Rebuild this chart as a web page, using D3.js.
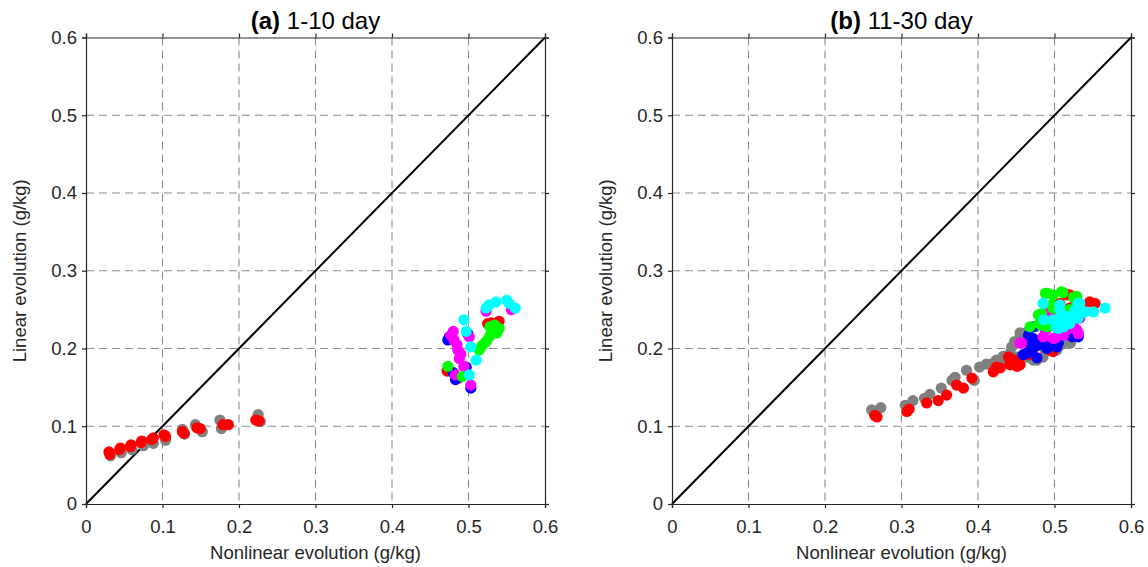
<!DOCTYPE html>
<html>
<head>
<meta charset="utf-8">
<script src="https://cdn.jsdelivr.net/npm/d3@7"></script>
<style>
  body { margin: 0; background: #fff; }
  svg { font-family: "Liberation Sans", Arial, Helvetica, sans-serif; }
</style>
</head>
<body>
<div id="chart-area"></div>
<script>
// tick values shared by both panels
var ticks = [0, 0.1, 0.2, 0.3, 0.4, 0.5, 0.6];
var tickLabels = ["0", "0.1", "0.2", "0.3", "0.4", "0.5", "0.6"];
var seriesNames = ["grey", "red", "blue", "magenta", "green", "cyan"];
var seriesColors = ["#808080", "#ff0000", "#0000ff", "#ff00ff", "#00ff00", "#00ffff"];

// (a) 1-10 day, [nonlinear, linear]
var aGrey = [[0.032,0.062],[0.046,0.066],[0.060,0.070],[0.075,0.075],[0.088,0.078],[0.104,0.082],
  [0.129,0.090],[0.126,0.096],[0.143,0.102],[0.152,0.093],[0.175,0.108],[0.177,0.097],[0.225,0.115],[0.228,0.106]];
var aRed = [[0.030,0.067],[0.031,0.064],[0.044,0.070],[0.045,0.072],[0.058,0.074],[0.059,0.076],
  [0.072,0.079],[0.073,0.081],[0.086,0.083],[0.088,0.085],[0.102,0.089],[0.104,0.087],[0.126,0.093],
  [0.128,0.091],[0.145,0.098],[0.149,0.097],[0.179,0.102],[0.186,0.102],[0.222,0.108],[0.226,0.107],
  [0.525,0.232],[0.530,0.233],[0.540,0.235],[0.472,0.171],[0.487,0.162]];
var aBlue = [[0.473,0.211],[0.475,0.215],[0.499,0.219],[0.497,0.176],[0.503,0.149],[0.483,0.160],[0.480,0.169]];
var aMagenta = [[0.523,0.248],[0.556,0.250],[0.477,0.217],[0.481,0.211],[0.480,0.222],[0.486,0.198],
  [0.488,0.187],[0.494,0.177],[0.501,0.215],[0.483,0.166],[0.503,0.153],[0.485,0.205],[0.490,0.193]];
var aGreen = [[0.473,0.177],[0.514,0.198],[0.518,0.204],[0.523,0.209],[0.530,0.220],[0.534,0.230],
  [0.540,0.226],[0.537,0.220],[0.527,0.215],[0.492,0.164],[0.528,0.228]];
var aCyan = [[0.527,0.256],[0.536,0.260],[0.523,0.252],[0.553,0.258],[0.561,0.252],[0.550,0.262],
  [0.494,0.237],[0.510,0.185],[0.501,0.166],[0.503,0.202],[0.497,0.222]];

// (b) 11-30 day
var bGrey = [[0.261,0.121],[0.273,0.124],[0.305,0.127],[0.315,0.133],[0.330,0.136],[0.337,0.141],
  [0.352,0.149],[0.366,0.159],[0.370,0.163],[0.385,0.172],[0.395,0.159],[0.402,0.176],[0.411,0.180],
  [0.424,0.185],[0.451,0.189],[0.464,0.189],[0.477,0.185],[0.488,0.196],[0.455,0.215],[0.464,0.221],
  [0.507,0.204],[0.516,0.211],[0.525,0.221],[0.444,0.202],[0.475,0.228],[0.521,0.207],[0.433,0.190],
  [0.455,0.220],[0.448,0.209],[0.442,0.194],[0.429,0.183],[0.420,0.181],[0.512,0.207],[0.521,0.211],
  [0.503,0.198],[0.485,0.189],[0.472,0.185]];
var bRed = [[0.265,0.114],[0.268,0.112],[0.307,0.119],[0.310,0.122],[0.333,0.130],[0.348,0.133],
  [0.359,0.140],[0.372,0.153],[0.381,0.149],[0.392,0.162],[0.420,0.170],[0.424,0.176],[0.440,0.189],
  [0.442,0.179],[0.455,0.179],[0.448,0.185],[0.472,0.211],[0.484,0.211],[0.494,0.198],[0.485,0.207],
  [0.471,0.196],[0.507,0.258],[0.520,0.252],[0.546,0.260],[0.553,0.258],[0.516,0.269],[0.520,0.269],
  [0.508,0.251],[0.498,0.196],[0.535,0.255],[0.442,0.183],[0.451,0.177],[0.429,0.175],[0.483,0.211],
  [0.468,0.198],[0.467,0.192],[0.514,0.247],[0.527,0.256]];
var bBlue = [[0.468,0.213],[0.464,0.194],[0.480,0.205],[0.472,0.228],[0.503,0.202],[0.512,0.219],
  [0.531,0.215],[0.466,0.217],[0.475,0.203],[0.505,0.207],[0.523,0.215],[0.468,0.196],[0.490,0.200],
  [0.472,0.213],[0.468,0.207],[0.459,0.192],[0.477,0.188],[0.494,0.205],[0.488,0.226]];
var bMagenta = [[0.455,0.207],[0.490,0.226],[0.498,0.213],[0.507,0.219],[0.516,0.224],[0.529,0.224],
  [0.533,0.239],[0.498,0.247],[0.490,0.245],[0.488,0.224],[0.457,0.207],[0.512,0.217],[0.531,0.219],
  [0.525,0.233],[0.485,0.215],[0.500,0.213],[0.512,0.222],[0.531,0.220],[0.490,0.237]];
var bGreen = [[0.488,0.271],[0.490,0.271],[0.498,0.269],[0.509,0.273],[0.511,0.272],[0.525,0.266],
  [0.529,0.267],[0.529,0.258],[0.496,0.256],[0.483,0.245],[0.481,0.243],[0.480,0.232],[0.468,0.228],
  [0.490,0.228],[0.520,0.250],[0.503,0.251],[0.479,0.243],[0.483,0.230],[0.498,0.252]];
var bCyan = [[0.485,0.258],[0.507,0.256],[0.507,0.250],[0.516,0.241],[0.531,0.258],[0.533,0.258],
  [0.551,0.247],[0.566,0.252],[0.498,0.237],[0.503,0.237],[0.512,0.237],[0.520,0.241],[0.505,0.226],
  [0.512,0.228],[0.531,0.239],[0.486,0.237],[0.540,0.247],[0.507,0.240],[0.520,0.232],[0.502,0.227],
  [0.527,0.249]];

var panels = [
  { tag: "(a)", title: " 1-10 day", left: 86, series: [aGrey, aRed, aBlue, aMagenta, aGreen, aCyan] },
  { tag: "(b)", title: " 11-30 day", left: 672, series: [bGrey, bRed, bBlue, bMagenta, bGreen, bCyan] }
];

var width = 1148, height = 567;
var plotW = 459, plotTop = 37.5, plotBottom = 504;

var svg = d3.select("#chart-area")
  .append("svg")
    .attr("width", width)
    .attr("height", height);

panels.forEach(function(p) {
  var x = d3.scaleLinear().domain([0, 0.6]).range([p.left, p.left + plotW]);
  var y = d3.scaleLinear().domain([0, 0.6]).range([plotBottom, plotTop]);
  var g = svg.append("g");

  // dashed grid
  g.selectAll(".vgrid").data(ticks.slice(1, -1)).enter()
    .append("line")
      .attr("x1", function(d) { return x(d); })
      .attr("x2", function(d) { return x(d); })
      .attr("y1", plotTop).attr("y2", plotBottom)
      .attr("stroke", "#8c8c8c").attr("stroke-width", 1.1)
      .attr("stroke-dasharray", "8,5");
  g.selectAll(".hgrid").data(ticks.slice(1, -1)).enter()
    .append("line")
      .attr("y1", function(d) { return y(d); })
      .attr("y2", function(d) { return y(d); })
      .attr("x1", p.left).attr("x2", p.left + plotW)
      .attr("stroke", "#8c8c8c").attr("stroke-width", 1.1)
      .attr("stroke-dasharray", "8,5");

  // 1:1 line
  g.append("line")
    .attr("x1", x(0)).attr("y1", y(0))
    .attr("x2", x(0.6)).attr("y2", y(0.6))
    .attr("stroke", "#000").attr("stroke-width", 2);

  // scatter, series in drawing order
  p.series.forEach(function(s, i) {
    g.selectAll(".pt" + i).data(s).enter()
      .append("circle")
        .attr("cx", function(d) { return x(d[0]); })
        .attr("cy", function(d) { return y(d[1]); })
        .attr("r", 5.6)
        .attr("fill", seriesColors[i]);
  });

  // axes, ticks out on all sides
  var fmt = function(d, i) { return tickLabels[i]; };
  var axB = g.append("g").attr("transform", "translate(0," + plotBottom + ")")
    .call(d3.axisBottom(x).tickValues(ticks).tickFormat(fmt).tickSize(4).tickPadding(12));
  var axL = g.append("g").attr("transform", "translate(" + p.left + ",0)")
    .call(d3.axisLeft(y).tickValues(ticks).tickFormat(fmt).tickSize(4).tickPadding(5));
  var axT = g.append("g").attr("transform", "translate(0," + plotTop + ")")
    .call(d3.axisTop(x).tickValues(ticks).tickFormat("").tickSize(4));
  var axR = g.append("g").attr("transform", "translate(" + (p.left + plotW) + ",0)")
    .call(d3.axisRight(y).tickValues(ticks).tickFormat("").tickSize(4));
  [axB, axL, axT, axR].forEach(function(a) {
    a.select(".domain").attr("stroke", "#262626").attr("stroke-width", 1.2);
    a.selectAll(".tick line").attr("stroke", "#262626").attr("stroke-width", 1.2);
    a.selectAll("text").attr("font-size", 18.5).attr("fill", "#262626")
      .attr("font-family", "Liberation Sans, Arial, sans-serif");
  });

  // title
  var t = g.append("text")
    .attr("x", p.left + plotW / 2).attr("y", 29)
    .attr("text-anchor", "middle").attr("font-size", 24).attr("fill", "#000");
  t.append("tspan").attr("font-weight", "bold").text(p.tag);
  t.append("tspan").text(p.title);

  // axis labels
  g.append("text")
    .attr("x", p.left + plotW / 2).attr("y", 559)
    .attr("text-anchor", "middle").attr("font-size", 18.5).attr("fill", "#262626")
    .text("Nonlinear evolution (g/kg)");
  g.append("text")
    .attr("transform", "translate(" + (p.left - 60) + "," + ((plotTop + plotBottom) / 2) + ") rotate(-90)")
    .attr("text-anchor", "middle").attr("font-size", 18.5).attr("fill", "#262626")
    .text("Linear evolution (g/kg)");
});
</script>
</body>
</html>
